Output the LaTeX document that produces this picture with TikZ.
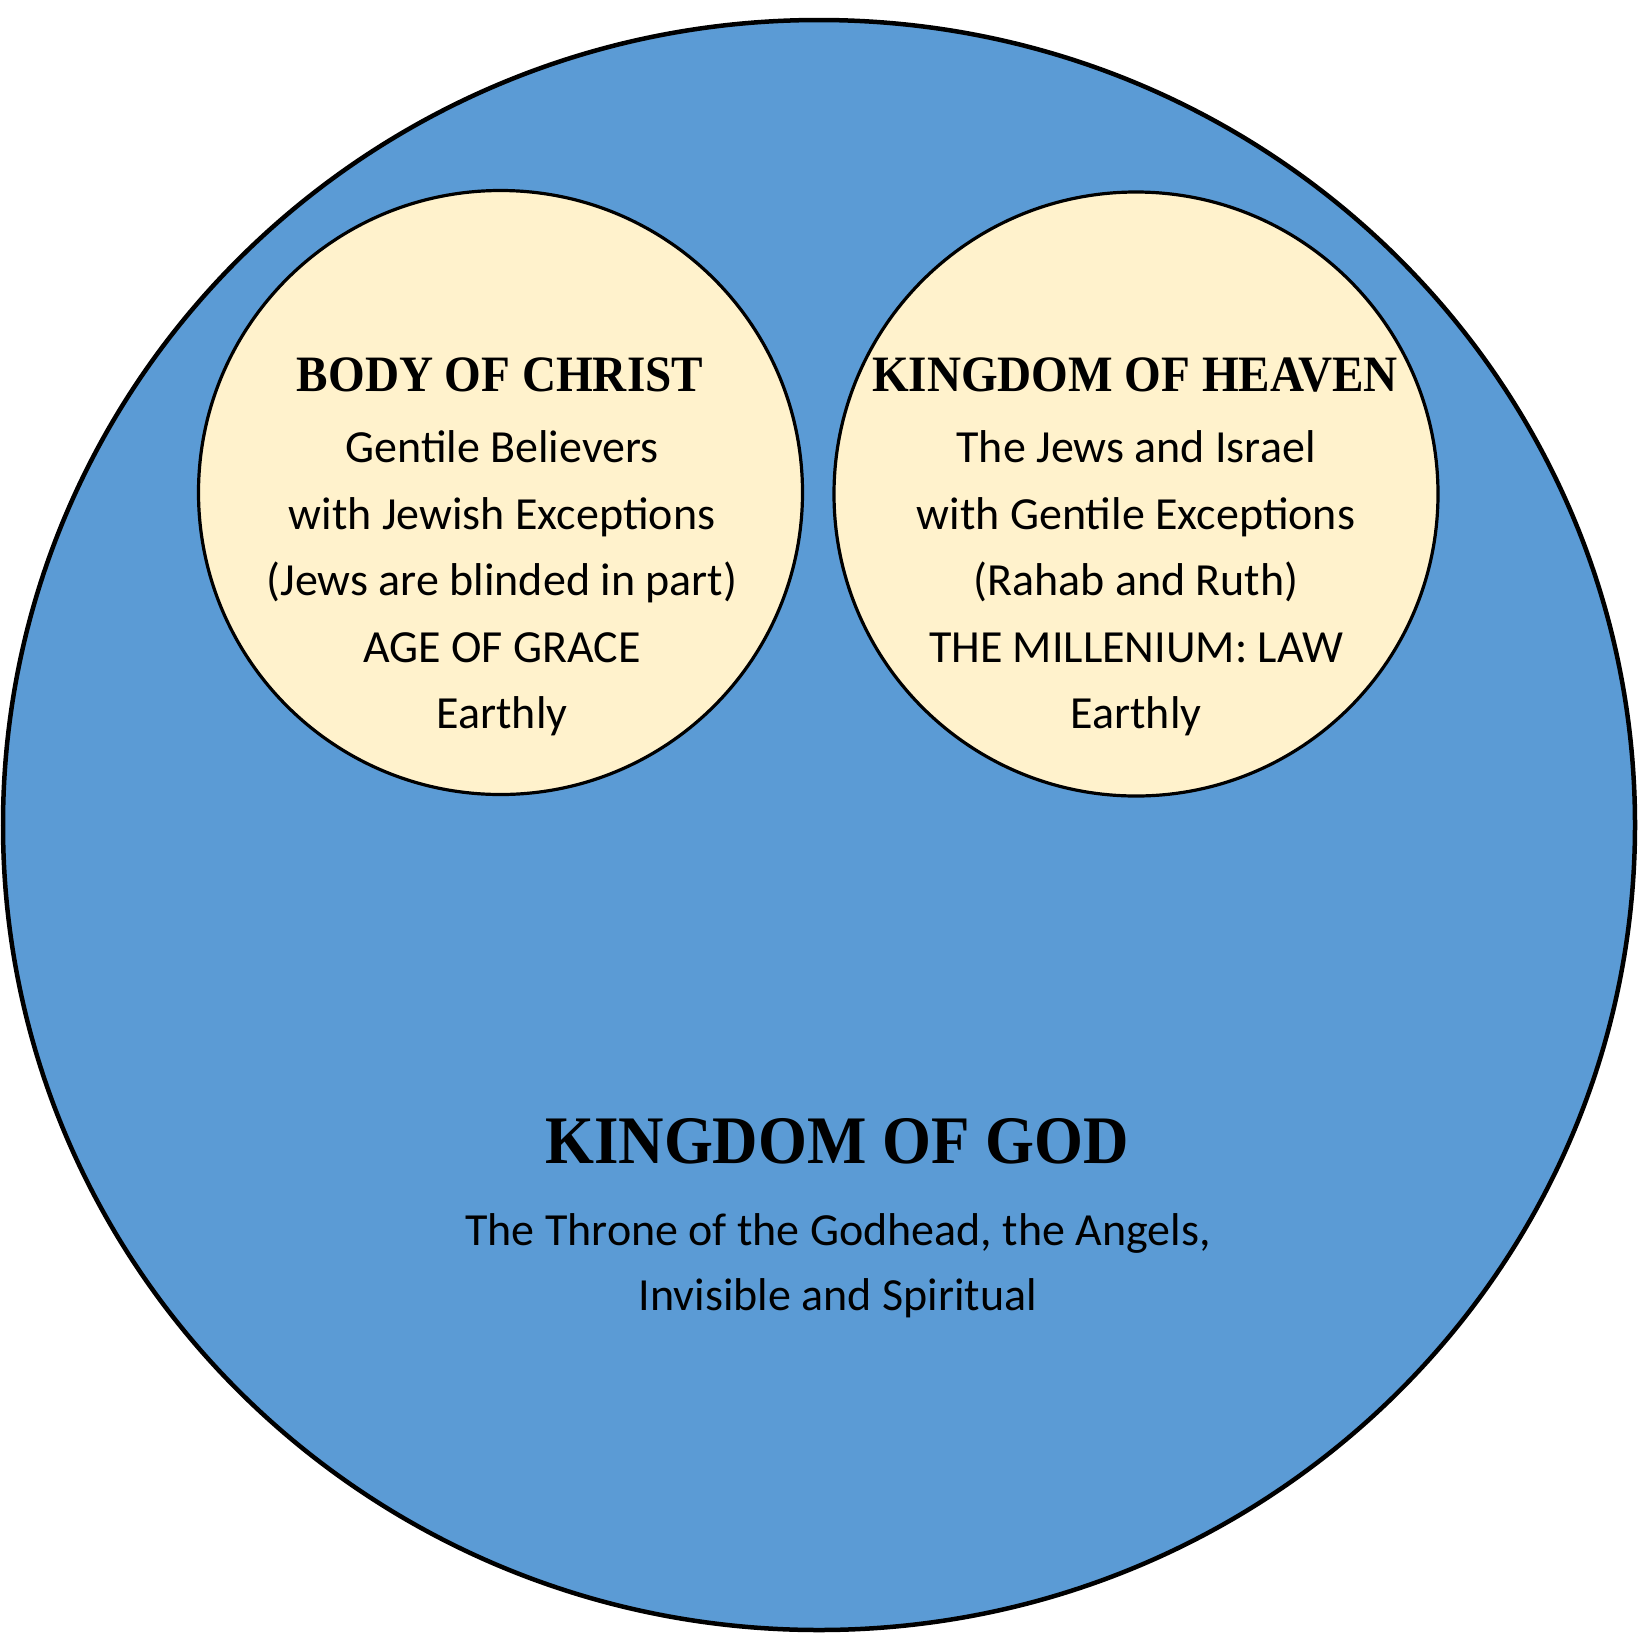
\documentclass[tikz,border=0pt]{standalone}
\usepackage{fontspec}
\setmainfont{Carlito}
\newfontfamily\titlefont[FakeStretch=0.925]{Liberation Serif}
\definecolor{godblue}{HTML}{5B9BD5}
\definecolor{cream}{HTML}{FFF2CC}
\tikzset{
  outerring/.style={draw=black, line width=4.5pt, fill=godblue},
  innerring/.style={draw=black, line width=3.2pt, fill=cream, circle, inner sep=0pt, minimum size=604pt},
  smalltitle/.style={anchor=base, inner sep=0pt, font=\titlefont\bfseries\fontsize{51}{60}\selectfont},
  bigtitle/.style={anchor=base, inner sep=0pt, font=\titlefont\bfseries\fontsize{68}{80}\selectfont},
  bodyline/.style={anchor=base, inner sep=0pt, font=\fontsize{46}{55}\selectfont},
}
\begin{document}
\begin{tikzpicture}[x=1pt, y=-1pt]
\useasboundingbox (0,0) rectangle (1650,1650);
\fill[white] (0,0) rectangle (1650,1650);
% outer kingdom
\draw[outerring] (819,825) ellipse [x radius=816, y radius=805];
% inner circles
\node[innerring] (body) at (500.5,492.5) {};
\node[innerring] (heaven) at (1136,494) {};
% left texts
\node[smalltitle] (bt) at (500,391) {BODY OF CHRIST};
\node[bodyline] (b1) at (502,462.5) {Gentile Believers};
\node[bodyline] (b2) at (502,529) {with Jewish Exceptions};
\node[bodyline] (b3) at (502,595.5) {(Jews are blinded in part)};
\node[bodyline] (b4) at (502,662) {AGE OF GRACE};
\node[bodyline] (b5) at (502,728.5) {Earthly};
% right texts
\node[smalltitle] (ht) at (1135,391) {KINGDOM OF HEAVEN};
\node[bodyline] (h1) at (1136,462.5) {The Jews and Israel};
\node[bodyline] (h2) at (1136,529) {with Gentile Exceptions};
\node[bodyline] (h3) at (1136,595.5) {(Rahab and Ruth)};
\node[bodyline] (h4) at (1136,662) {THE MILLENIUM: LAW};
\node[bodyline] (h5) at (1136,728.5) {Earthly};
% bottom texts
\node[bigtitle] (gt) at (837,1163) {KINGDOM OF GOD};
\node[bodyline] (g1) at (838,1245) {The Throne of the Godhead, the Angels,};
\node[bodyline] (g2) at (838,1310) {Invisible and Spiritual};
\end{tikzpicture}
\end{document}
